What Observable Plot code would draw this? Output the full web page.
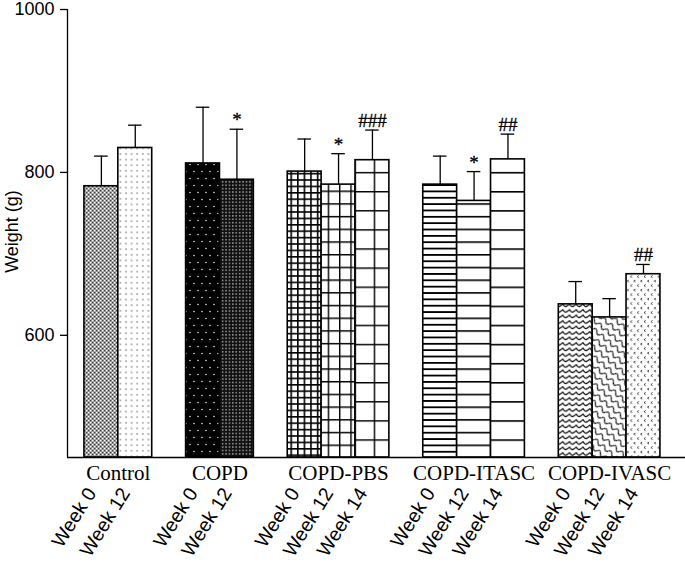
<!DOCTYPE html>
<html><head><meta charset="utf-8">
<script src="https://cdn.jsdelivr.net/npm/d3@7"></script>
<script src="https://cdn.jsdelivr.net/npm/@observablehq/plot@0.6"></script>
<style>
body{margin:0;background:#fff}
#chart svg{display:block;overflow:visible}
</style>
</head><body>
<svg width="0" height="0" style="position:absolute">
<defs>
  <pattern id="p-ctl0" patternUnits="userSpaceOnUse" width="4" height="4">
    <rect width="4" height="4" fill="#9a9a9a"/>
    <rect x="0" y="0" width="1.3" height="1.3" fill="#fff"/>
    <rect x="2" y="2" width="1.3" height="1.3" fill="#fff"/>
    <rect x="2" y="0" width="1.1" height="1.1" fill="#3a3a3a"/>
    <rect x="0" y="2" width="1.1" height="1.1" fill="#3a3a3a"/>
  </pattern>
  <pattern id="p-ctl12" patternUnits="userSpaceOnUse" width="5.6" height="5.6">
    <rect width="5.6" height="5.6" fill="#fff"/>
    <circle cx="2.8" cy="2.8" r="0.75" fill="#555"/>
  </pattern>
  <pattern id="p-copd0" patternUnits="userSpaceOnUse" width="8" height="14">
    <rect width="8" height="14" fill="#000"/>
    <circle cx="2" cy="3.5" r="0.75" fill="#fff"/>
    <circle cx="6" cy="10.5" r="0.75" fill="#fff"/>
  </pattern>
  <pattern id="p-copd12" patternUnits="userSpaceOnUse" width="3.4" height="3.4">
    <rect width="3.4" height="3.4" fill="#111"/>
    <rect x="1" y="1" width="1.3" height="1.3" fill="#c8c8c8"/>
  </pattern>
  <pattern id="p-pbs0" patternUnits="userSpaceOnUse" width="6.6" height="6.4">
    <rect width="6.6" height="6.4" fill="#fff"/>
    <path d="M0,0.8H6.6M0.8,0V6.4" stroke="#000" stroke-width="1.6"/>
  </pattern>
  <pattern id="p-pbs12" patternUnits="userSpaceOnUse" width="11.3" height="12.7">
    <rect width="11.3" height="12.7" fill="#fff"/>
    <path d="M0,0.7H11.3M0.7,0V12.7" stroke="#000" stroke-width="1.4"/>
  </pattern>
  <pattern id="p-pbs14" patternUnits="userSpaceOnUse" width="19.3" height="19.1" x="7">
    <rect width="19.3" height="19.1" fill="#fff"/>
    <path d="M0,0.7H19.3M0.7,0V19.1" stroke="#000" stroke-width="1.4"/>
  </pattern>
  <pattern id="p-it0" patternUnits="userSpaceOnUse" width="10" height="6.35">
    <rect width="10" height="6.35" fill="#fff"/>
    <path d="M0,0.9H10" stroke="#000" stroke-width="1.8"/>
  </pattern>
  <pattern id="p-it12" patternUnits="userSpaceOnUse" width="10" height="12.7">
    <rect width="10" height="12.7" fill="#fff"/>
    <path d="M0,0.8H10" stroke="#000" stroke-width="1.6"/>
  </pattern>
  <pattern id="p-it14" patternUnits="userSpaceOnUse" width="10" height="19.1">
    <rect width="10" height="19.1" fill="#fff"/>
    <path d="M0,0.8H10" stroke="#000" stroke-width="1.6"/>
  </pattern>
  <pattern id="p-iv0" patternUnits="userSpaceOnUse" width="6.78" height="5.5">
    <rect width="6.78" height="5.5" fill="#fff"/>
    <path d="M-0.3,1.3 Q1.7,4.8 3.39,4.0 Q5.1,3.2 7.1,1.3" fill="none" stroke="#000" stroke-width="1.15"/>
  </pattern>
  <pattern id="p-iv12" patternUnits="userSpaceOnUse" width="9" height="7" patternTransform="rotate(40)">
    <rect width="9" height="7" fill="#fff"/>
    <path d="M0,3.5 Q2.25,0 4.5,3.5 T9,3.5" fill="none" stroke="#000" stroke-width="1.15"/>
  </pattern>
  <pattern id="p-iv14" patternUnits="userSpaceOnUse" width="6.8" height="9">
    <rect width="6.8" height="9" fill="#fff"/>
    <path d="M3,1 L1.5,2.1 L3,3.2 M6.4,5.5 L4.9,6.6 L6.4,7.7" fill="none" stroke="#222" stroke-width="0.9"/>
  </pattern>
</defs></svg>
<div id="chart"></div>
<script>
const groups = ["Control", "COPD", "COPD-PBS", "COPD-ITASC", "COPD-IVASC"];
const weeks = [
  ["Week 0", "Week 12"],
  ["Week 0", "Week 12"],
  ["Week 0", "Week 12", "Week 14"],
  ["Week 0", "Week 12", "Week 14"],
  ["Week 0", "Week 12", "Week 14"]
];
const means = [
  [783, 830],
  [811, 791],
  [801, 785, 815],
  [785, 765, 816],
  [638, 622, 675]
];
const errors = [
  [37, 28],
  [69, 62],
  [40, 38, 37],
  [35, 36, 31],
  [28, 23, 12]
];
const signif = [
  ["", ""],
  ["", "*"],
  ["", "*", "###"],
  ["", "*", "##"],
  ["", "", "##"]
];
const patterns = [
  ["p-ctl0", "p-ctl12"],
  ["p-copd0", "p-copd12"],
  ["p-pbs0", "p-pbs12", "p-pbs14"],
  ["p-it0", "p-it12", "p-it14"],
  ["p-iv0", "p-iv12", "p-iv14"]
];
const yTicks = [600, 800, 1000];
const yMin = 450, yMax = 1000;
const yLabel = "Weight (g)";

// one slot per bar, one empty slot between groups
const bars = [], centers = [];
let slot = 0;
groups.forEach((g, gi) => {
  const start = slot;
  weeks[gi].forEach((w, wi) => {
    bars.push({group: g, week: w, x1: slot, x2: slot + 1, xc: slot + 0.5,
      mean: means[gi][wi], top: means[gi][wi] + errors[gi][wi],
      sig: signif[gi][wi], fill: `url(#${patterns[gi][wi]})`});
    slot++;
  });
  centers.push({group: g, x: (start + slot) / 2});
  slot++;
});

const sans = "Liberation Sans, Arial, sans-serif";
const serif = "Liberation Serif, Times New Roman, serif";

const chart = Plot.plot({
  width: 685, height: 569,
  marginLeft: 67, marginRight: 0, marginTop: 9, marginBottom: 112,
  x: {domain: [-0.5, 17.74], axis: null},
  y: {domain: [yMin, yMax], axis: null},
  color: {type: "identity"},
  style: {background: "#fff", color: "#000"},
  marks: [
    Plot.ruleX(bars, {x: "xc", y1: "mean", y2: "top", stroke: "#000", strokeWidth: 1.3}),
    Plot.ruleY(bars, {y: "top", x1: d => d.xc - 0.2, x2: d => d.xc + 0.2, stroke: "#000", strokeWidth: 1.3}),
    Plot.rect(bars, {x1: "x1", x2: "x2", y1: yMin, y2: "mean", fill: "fill", stroke: "#000", strokeWidth: 1.6}),
    Plot.text(bars.filter(d => d.sig), {x: "xc", y: "top", text: "sig", dy: -3, lineAnchor: "bottom",
      fontFamily: serif, fontSize: 19, fill: "#000", stroke: "#000", strokeWidth: 0.3}),
    Plot.ruleX([-0.5], {stroke: "#000", strokeWidth: 1.3}),
    Plot.ruleY([yMin], {stroke: "#000", strokeWidth: 1.3}),
    Plot.axisY({ticks: yTicks, tickFormat: d => String(d), tickSize: 7, tickPadding: 6, fontSize: 18, fontFamily: sans,
      label: null, stroke: "#000", strokeWidth: 1.3, fill: "#000"}),
    Plot.text([yLabel], {text: d => d, frameAnchor: "left", textAnchor: "middle", dx: -55, dy: -2, rotate: -90,
      fontSize: 18, fontFamily: sans, fill: "#000"}),
    Plot.text(centers, {x: "x", text: "group", frameAnchor: "bottom", dy: 22, lineAnchor: "bottom",
      fontSize: 21, fontFamily: serif, fill: "#000"}),
    Plot.text(bars, {x: "xc", text: "week", frameAnchor: "bottom", dx: -4.5, dy: 35.5, rotate: -58,
      textAnchor: "end", lineAnchor: "bottom", fontSize: 19.5, fontFamily: sans, fill: "#000"})
  ]
});
document.getElementById("chart").appendChild(chart);
</script>
</body></html>
